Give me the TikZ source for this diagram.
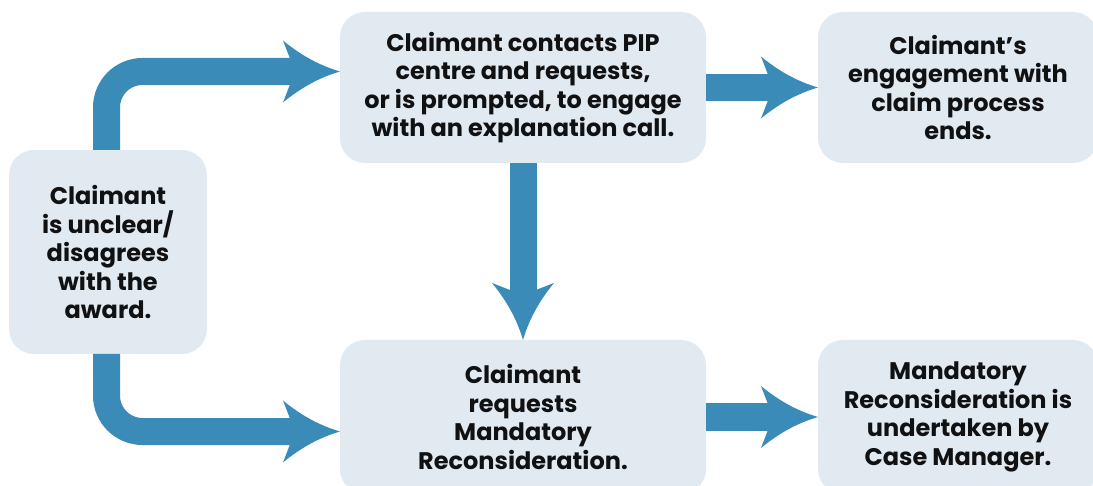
\documentclass[tikz,border=0pt]{standalone}
\usepackage{fontspec}
\setmainfont{Poppins}
\usetikzlibrary{arrows.meta}

\definecolor{flowblue}{HTML}{3A8BB8}
\definecolor{boxfill}{HTML}{E1E9F1}
\definecolor{inktext}{HTML}{111111}

% broad arrow head with slightly hollowed flanks and swept-back barbs
\pgfdeclarearrow{
  name = Barb,
  parameters = {},
  setup code = {
    \pgfarrowssettipend{0pt}
    \pgfarrowssetlineend{-38pt}
    \pgfarrowssetvisualbackend{-45pt}
    \pgfarrowssetbackend{-57pt}
    \pgfarrowshullpoint{0pt}{0pt}
    \pgfarrowshullpoint{-57pt}{31pt}
    \pgfarrowshullpoint{-57pt}{-31pt}
  },
  drawing code = {
    \pgfpathmoveto{\pgfqpoint{0pt}{0pt}}
    \pgfpathcurveto{\pgfqpoint{-22pt}{6.5pt}}{\pgfqpoint{-40pt}{17pt}}{\pgfqpoint{-57pt}{31pt}}
    \pgfpathlineto{\pgfqpoint{-45pt}{0pt}}
    \pgfpathlineto{\pgfqpoint{-57pt}{-31pt}}
    \pgfpathcurveto{\pgfqpoint{-40pt}{-17pt}}{\pgfqpoint{-22pt}{-6.5pt}}{\pgfqpoint{0pt}{0pt}}
    \pgfpathclose
    \pgfusepathqfill
  }
}

\tikzset{
  stagebox/.style={fill=boxfill, rounded corners=25pt, inner sep=0pt, outer sep=0pt,
    text=inktext, align=center,
    font=\fontsize{24}{28.5}\selectfont\bfseries},
  flow/.style={draw=flowblue, line width=27pt, line cap=butt, -Barb,
    rounded corners=36pt}
}

\begin{document}
\begin{tikzpicture}[x=1pt, y=-1pt]
  \useasboundingbox (0,0) rectangle (1093,486);
  \clip (0,0) rectangle (1093,486);

  % stages
  \node[stagebox, minimum width=198pt, minimum height=204pt] (start) at (108,252)
    {Claimant\\is unclear/\\disagrees\\with the\\award.};
  \node[stagebox, minimum width=366pt, minimum height=151pt] (call) at (523,87.5)
    {Claimant contacts PIP\\centre and requests,\\or is prompted, to engage\\with an explanation call.};
  \node[stagebox, minimum width=280pt, minimum height=151pt] (ends) at (958,87.5)
    {Claimant’s\\engagement with\\claim process\\ends.};
  \node[stagebox, minimum width=366pt, minimum height=154pt] (request) at (523,417)
    {Claimant\\requests\\Mandatory\\Reconsideration.};
  \node[stagebox, minimum width=280pt, minimum height=154pt] (review) at (958,417)
    {Mandatory\\Reconsideration is\\undertaken by\\Case Manager.};

  % connectors
  \draw[flow] ([xshift=-1.5pt]start.north) |- ([yshift=16pt]call.west);
  \draw[flow] ([xshift=-1.5pt]start.south) |- ([yshift=-14.5pt]request.west);
  \draw[flow] (call.east) -- (ends.west);
  \draw[flow] (call.south) -- (request.north);
  \draw[flow] (request.east) -- (review.west);
\end{tikzpicture}
\end{document}
